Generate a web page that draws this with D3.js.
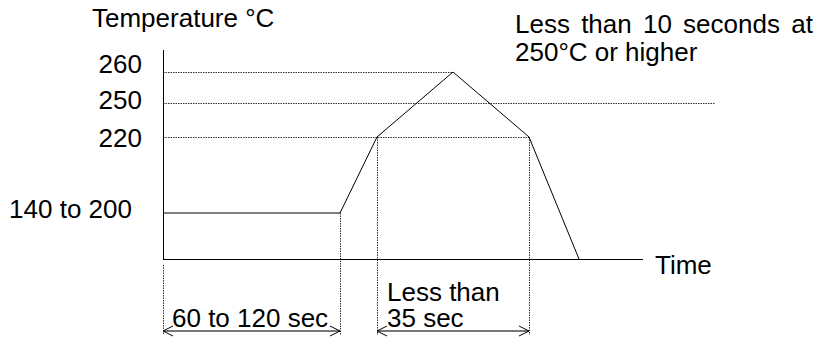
<!DOCTYPE html>
<html>
<head>
<meta charset="utf-8">
<script src="https://cdnjs.cloudflare.com/ajax/libs/d3/7.8.5/d3.min.js"></script>
<style>
    body { margin: 0; background: #fff; }
    text { font-family: "Liberation Sans", Arial, sans-serif; font-size: 26px; fill: #000; }
</style>
</head>
<body>
<div id="chart"></div>
<script>
// profile breakpoints (schematic time units, not to scale)
var times = [0, 177, 214, 290, 366, 416];
var temps = [170, 170, 220, 260, 220, 0];

// temperature levels with guide lines, and how far each guide runs
var tickTemps = [260, 250, 220];
var tickLabels = ["260", "250", "220"];
var guideEnds = [290, 552, 366];

var preheatTemp = 170;
var preheatLabel = "140 to 200";

// time spans marked under the axis
var spanStarts = [0, 214];
var spanEnds = [177, 366];
var spanLabels = [["60 to 120 sec"], ["Less than", "35 sec"]];

var width = 817, height = 338;

// schematic axes: piecewise y scale like the drawing
var x = d3.scaleLinear().domain([0, 480]).range([163, 643]);
var y = d3.scaleLinear()
    .domain([0, 170, 220, 250, 260, 267])
    .range([259, 213, 137, 103, 72, 50]);

var dimY = 331;
var labelNudge = [1, 6, 10];

var svg = d3.select("#chart").append("svg")
    .attr("width", width)
    .attr("height", height);

var dotted = function(sel) {
    return sel.attr("stroke", "#333")
        .attr("stroke-width", 1)
        .attr("stroke-dasharray", "1.5,1")
        .attr("fill", "none");
};

// horizontal guides
svg.selectAll(".guide")
    .data(tickTemps)
    .enter().append("line")
    .attr("class", "guide")
    .attr("x1", x(0))
    .attr("x2", function(d, i) { return x(guideEnds[i]); })
    .attr("y1", function(d) { return y(d) + 0.5; })
    .attr("y2", function(d) { return y(d) + 0.5; })
    .call(dotted);

// vertical drops to the dimension arrows
var drops = [
    { t: 0, top: y(0) + 6 },
    { t: times[1], top: y(temps[1]) },
    { t: times[2], top: y(temps[2]) },
    { t: times[4], top: y(temps[4]) }
];
svg.selectAll(".drop")
    .data(drops)
    .enter().append("line")
    .attr("class", "drop")
    .attr("x1", function(d) { return x(d.t) + 0.5; })
    .attr("x2", function(d) { return x(d.t) + 0.5; })
    .attr("y1", function(d) { return d.top; })
    .attr("y2", dimY + 4)
    .call(dotted);

// axes
svg.append("line")
    .attr("x1", x(0) + 0.5).attr("x2", x(0) + 0.5)
    .attr("y1", y(267)).attr("y2", y(0) + 0.5)
    .attr("stroke", "#000");
svg.append("line")
    .attr("x1", x(0)).attr("x2", x(480))
    .attr("y1", y(0) + 0.5).attr("y2", y(0) + 0.5)
    .attr("stroke", "#000");

// the profile
var line = d3.line()
    .x(function(d) { return x(d[0]); })
    .y(function(d) { return y(d[1]); });

svg.append("path")
    .datum(d3.zip(times, temps))
    .attr("d", line)
    .attr("fill", "none")
    .attr("stroke", "#000")
    .attr("stroke-width", 1);

// labels
svg.append("text")
    .attr("x", 92).attr("y", 27)
    .text("Temperature °C");

svg.selectAll(".tick")
    .data(tickTemps)
    .enter().append("text")
    .attr("class", "tick")
    .attr("x", 142)
    .attr("y", function(d, i) { return y(d) + labelNudge[i]; })
    .style("text-anchor", "end")
    .text(function(d, i) { return tickLabels[i]; });

svg.append("text")
    .attr("x", 132).attr("y", y(preheatTemp) + 5)
    .style("text-anchor", "end")
    .text(preheatLabel);

svg.append("text")
    .attr("x", x(480) + 12).attr("y", y(0) + 15)
    .text("Time");

var note = svg.append("text").attr("x", 515).attr("y", 33);
note.append("tspan").attr("x", 515).style("word-spacing", "4px").text("Less than 10 seconds at");
note.append("tspan").attr("x", 515).attr("dy", 28).text("250°C or higher");

// dimension arrows
var spans = d3.range(spanStarts.length).map(function(i) {
    return { a: x(spanStarts[i]), b: x(spanEnds[i]), lines: spanLabels[i] };
});

var dims = svg.selectAll(".dim")
    .data(spans)
    .enter().append("g")
    .attr("class", "dim");

dims.append("line")
    .attr("x1", function(d) { return d.a + 1; })
    .attr("x2", function(d) { return d.b; })
    .attr("y1", dimY).attr("y2", dimY)
    .attr("stroke", "#777")
    .attr("stroke-width", 2);

dims.append("path")
    .attr("d", function(d) {
        return "M" + (d.a + 10) + "," + (dimY - 5) + "L" + d.a + "," + dimY + "L" + (d.a + 10) + "," + (dimY + 5) +
            "M" + (d.b - 10) + "," + (dimY - 5) + "L" + d.b + "," + dimY + "L" + (d.b - 10) + "," + (dimY + 5);
    })
    .attr("fill", "none")
    .attr("stroke", "#000")
    .attr("stroke-width", 1);

dims.each(function(d) {
    var g = d3.select(this);
    var n = d.lines.length;
    d.lines.forEach(function(s, k) {
        g.append("text")
            .attr("x", d.a + (n > 1 ? 10 : 9))
            .attr("y", dimY - 4 - (n - 1 - k) * 26)
            .text(s);
    });
});
</script>
</body>
</html>
